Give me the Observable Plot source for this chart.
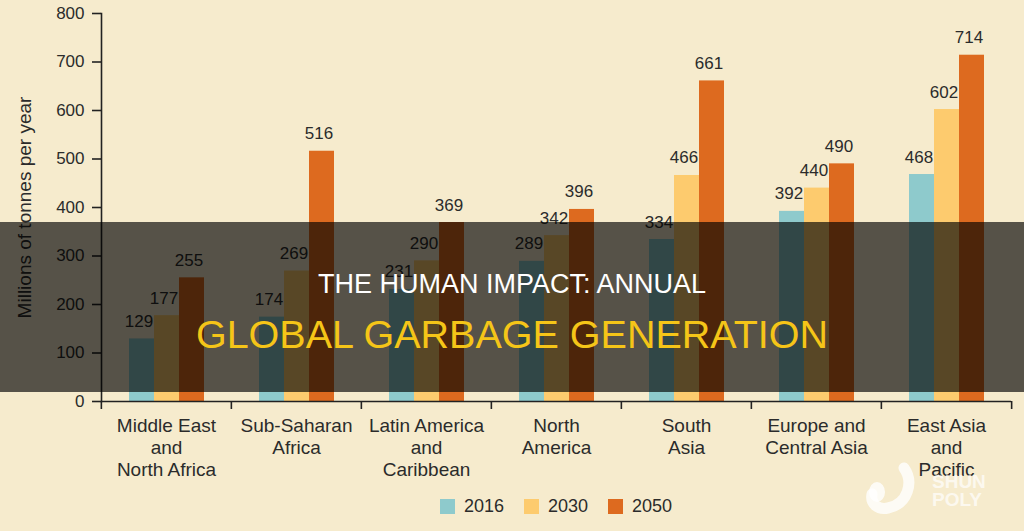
<!DOCTYPE html>
<html>
<head>
<meta charset="utf-8">
<script src="https://cdn.jsdelivr.net/npm/d3@7"></script>
<script src="https://cdn.jsdelivr.net/npm/@observablehq/plot@0.6"></script>
<style>
  html, body { margin: 0; padding: 0; background: #F6EBCD; }
  #wrap { position: relative; width: 1024px; height: 531px; overflow: hidden; background: #F6EBCD;
          font-family: "Liberation Sans", Arial, sans-serif; }
  #legend { display: flex; justify-content: center; margin-left: 100px; width: 912px; height: 45px;
            align-items: center; box-sizing: border-box; padding-bottom: 4px; }
  .lg-swatches { font-family: "Liberation Sans", Arial, sans-serif !important; font-size: 18px !important; color: #2b2b2b;
                 min-height: 0 !important; margin: 0 !important; }
  .lg-swatch { margin-right: 20px !important; }
  .lg-swatch:last-child { margin-right: 0 !important; }
  .lg-swatch > svg { margin-right: 9px !important; }
  g[aria-label="y-axis label"] text { font-size: 19px; }
  #overlay { position: absolute; left: 0; top: 222px; width: 1024px; height: 170px; background: rgba(0,0,0,0.65); }
  .t1 { position: absolute; left: 0; width: 1024px; text-align: center; top: 49px; font-size: 27px; line-height: 27px;
        color: #ffffff; white-space: nowrap; }
  .t2 { position: absolute; left: 0; width: 1024px; text-align: center; top: 93px; font-size: 39.5px; line-height: 39px;
        color: #F5C518; white-space: nowrap; }
  #wm { position: absolute; left: 860px; top: 460px; width: 140px; height: 60px; }
</style>
</head>
<body>
<div id="wrap">
  <div id="chart"></div>
  <div id="legend"></div>
  <div id="overlay">
    <div class="t1">THE HUMAN IMPACT: ANNUAL</div>
    <div class="t2">GLOBAL GARBAGE GENERATION</div>
  </div>
  <svg id="wm" viewBox="0 0 140 60">
    <path d="M44 8 C 54 22, 48 44, 28 48 C 18 50, 10 44, 12 34" fill="none" stroke="#ffffff" stroke-opacity="0.8" stroke-width="11" stroke-linecap="round"/>
    <ellipse cx="17" cy="32" rx="8" ry="10" fill="#ffffff" fill-opacity="0.8"/>
    <text x="72" y="28" font-family="Liberation Sans, Arial" font-weight="bold" font-size="19" fill="#ffffff" fill-opacity="0.7">SHUN</text>
    <text x="72" y="46" font-family="Liberation Sans, Arial" font-weight="bold" font-size="19" fill="#ffffff" fill-opacity="0.7">POLY</text>
  </svg>
</div>
<script>
// ---- data ----
const regions = [
  "Middle East\nand\nNorth Africa",
  "Sub-Saharan\nAfrica",
  "Latin America\nand\nCaribbean",
  "North\nAmerica",
  "South\nAsia",
  "Europe and\nCentral Asia",
  "East Asia\nand\nPacific"
];
const years = ["2016", "2030", "2050"];
const v2016 = [129, 174, 231, 289, 334, 392, 468];
const v2030 = [177, 269, 290, 342, 466, 440, 602];
const v2050 = [255, 516, 369, 396, 661, 490, 714];
const yTicks = [0, 100, 200, 300, 400, 500, 600, 700, 800];
const colors = ["#8ECACC", "#FDCB6E", "#DD6A1F"];

const series = [v2016, v2030, v2050];
const data = regions.flatMap((r, i) => years.map((y, j) => ({region: r, year: y, value: series[j][i]})));

const W = 1024, ML = 100, MR = 12;
const bw = (W - ML - MR) / regions.length;
const ink = "#2b2b2b";

const plot = Plot.plot({
  width: W,
  height: 486,
  marginLeft: ML,
  marginRight: MR,
  marginTop: 13,
  marginBottom: 85,
  style: {background: "transparent", fontFamily: "Liberation Sans, Arial, sans-serif", color: ink, overflow: "visible"},
  fx: {domain: regions, paddingInner: 0, paddingOuter: 0},
  x: {domain: years, paddingInner: 0, paddingOuter: 1.05, axis: null},
  y: {domain: [0, 800]},
  color: {domain: years, range: colors},
  marks: [
    Plot.barY(data, {fx: "region", x: "year", y: "value", fill: "year"}),
    Plot.text(data, {fx: "region", x: "year", y: "value", text: d => String(d.value),
      dy: -12, dx: -3, lineAnchor: "bottom", fill: ink, fontSize: 17}),
    Plot.ruleY([0], {stroke: "#222", strokeWidth: 1.6}),
    Plot.frame({anchor: "left", facetAnchor: "left", stroke: "#222", strokeWidth: 1.6}),
    Plot.axisY({ticks: yTicks, tickSize: 9, tickPadding: 8, fontSize: 17, stroke: "#222", strokeWidth: 1.6,
      label: "Millions of tonnes per year", labelAnchor: "center", labelArrow: "none", labelOffset: 84}),
    Plot.axisFx({anchor: "bottom", tickSize: 0, tickPadding: 15, label: null, fontSize: 19, lineHeight: 1.16,
      tickFormat: d => d, fill: ink}),
    Plot.axisFx({anchor: "bottom", tickSize: 8, fill: "none", label: null, dx: -bw / 2, stroke: "#222", strokeWidth: 1.6}),
    Plot.axisFx({anchor: "bottom", ticks: [regions[regions.length - 1]], tickSize: 8, fill: "none", label: null,
      dx: bw / 2, stroke: "#222", strokeWidth: 1.6})
  ]
});
document.getElementById("chart").appendChild(plot);
const leg = plot.legend("color", {className: "lg", swatchSize: 15});
document.getElementById("legend").appendChild(leg);
</script>
</body>
</html>
